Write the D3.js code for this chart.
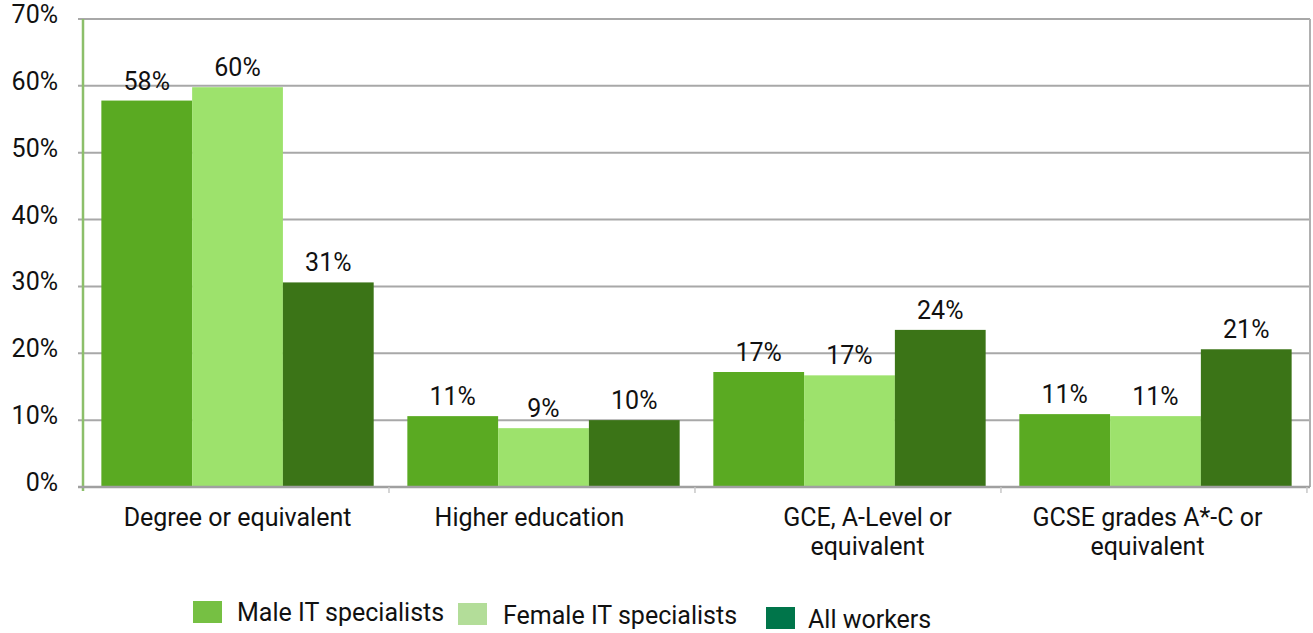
<!DOCTYPE html>
<html>
<head>
<meta charset="utf-8">
<script src="https://cdn.jsdelivr.net/npm/d3@7"></script>
<style>
  body { margin: 0; background: #fff; }
  text { font-family: Roboto, "Open Sans", sans-serif; fill: #111; font-size: 25px; }
</style>
</head>
<body>
<div id="chart"></div>
<script>
// categories (multi-line labels)
var categories = [
    ["Degree or equivalent"],
    ["Higher education"],
    ["GCE, A-Level or", "equivalent"],
    ["GCSE grades A*-C or", "equivalent"]
];
var seriesNames = ["Male IT specialists", "Female IT specialists", "All workers"];
var maleVals = [57.8, 10.6, 17.2, 10.9];
var femaleVals = [59.8, 8.8, 16.7, 10.6];
var allVals = [30.6, 10.0, 23.5, 20.6];
var valueLabels = [
    ["58%", "60%", "31%"],
    ["11%", "9%", "10%"],
    ["17%", "17%", "24%"],
    ["11%", "11%", "21%"]
];
var yTicks = [0, 10, 20, 30, 40, 50, 60, 70];

var barColors = ["#5aaa22", "#9de26c", "#3b7417"];
var legendColors = ["#76c043", "#b3dd99", "#00754a"];

var width = 1313, height = 633;
var margin = {left: 83, right: 3, top: 19, bottom: 146};

// excel-ish wrapping shifts the category labels a bit off centre
var labelShift = [0, -14, 18, -8];

var svg = d3.select("#chart")
    .append("svg")
    .attr("width", width)
    .attr("height", height);

var x0 = d3.scaleBand()
    .domain(d3.range(categories.length))
    .range([margin.left, width - margin.right])
    .paddingInner(0.11)
    .paddingOuter(0.06);

var x1 = d3.scaleBand()
    .domain(d3.range(seriesNames.length))
    .range([0, x0.bandwidth()]);

var y = d3.scaleLinear()
    .domain([0, 70])
    .range([height - margin.bottom, margin.top]);

// gridlines
svg.append("g")
    .selectAll("line")
    .data(yTicks.slice(1))
    .enter()
    .append("line")
    .attr("x1", margin.left - 5)
    .attr("x2", width - margin.right)
    .attr("y1", function(d) { return y(d); })
    .attr("y2", function(d) { return y(d); })
    .style("stroke", "#a8a8a8")
    .style("stroke-width", 2);

// right border
svg.append("line")
    .attr("x1", width - margin.right).attr("x2", width - margin.right)
    .attr("y1", y(70)).attr("y2", y(0))
    .style("stroke", "#b0b0b0")
    .style("stroke-width", 2);

// y tick labels
svg.append("g")
    .selectAll("text")
    .data(yTicks)
    .enter()
    .append("text")
    .attr("x", 58)
    .attr("y", function(d) { return y(d) + 4; })
    .attr("text-anchor", "end")
    .text(function(d) { return d + "%"; });

// bars
var series = [maleVals, femaleVals, allVals];
var groups = svg.append("g")
    .selectAll("g")
    .data(categories)
    .enter()
    .append("g")
    .attr("transform", function(d, i) { return "translate(" + x0(i) + ",0)"; });

groups.selectAll("rect")
    .data(function(d, i) { return series.map(function(s, j) { return {s: j, v: s[i]}; }); })
    .enter()
    .append("rect")
    .attr("x", function(d) { return x1(d.s); })
    .attr("width", x1.bandwidth())
    .attr("y", function(d) { return y(d.v); })
    .attr("height", function(d) { return y(0) - y(d.v); })
    .style("fill", function(d) { return barColors[d.s]; });

groups.selectAll("text.val")
    .data(function(d, i) { return series.map(function(s, j) { return {s: j, v: s[i], label: valueLabels[i][j]}; }); })
    .enter()
    .append("text")
    .attr("class", "val")
    .attr("x", function(d) { return x1(d.s) + x1.bandwidth() / 2; })
    .attr("y", function(d) { return y(d.v) - 11; })
    .attr("text-anchor", "middle")
    .text(function(d) { return d.label; });

// y axis line (green)
svg.append("line")
    .attr("x1", margin.left).attr("x2", margin.left)
    .attr("y1", y(70)).attr("y2", y(0) + 4)
    .style("stroke", "#8cbf6a")
    .style("stroke-width", 2.5);

// x axis line
svg.append("line")
    .attr("x1", margin.left - 5).attr("x2", width - margin.right)
    .attr("y1", y(0)).attr("y2", y(0))
    .style("stroke", "#a0a0a0")
    .style("stroke-width", 2.5);

// category tick marks
var step = x0.step();
svg.append("g")
    .selectAll("line")
    .data(d3.range(1, categories.length + 1))
    .enter()
    .append("line")
    .attr("x1", function(d) { return x0(0) - x0.paddingOuter() * step + d * step; })
    .attr("x2", function(d) { return x0(0) - x0.paddingOuter() * step + d * step; })
    .attr("y1", y(0)).attr("y2", y(0) + 6)
    .style("stroke", "#c8c8c8")
    .style("stroke-width", 1.5);

// category labels
var catLabels = svg.append("g")
    .selectAll("text")
    .data(categories)
    .enter()
    .append("text")
    .attr("text-anchor", "middle")
    .attr("transform", function(d, i) {
        return "translate(" + (x0(i) + x0.bandwidth() / 2 + labelShift[i]) + "," + (y(0) + 39) + ")";
    });

catLabels.selectAll("tspan")
    .data(function(d) { return d; })
    .enter()
    .append("tspan")
    .attr("x", 0)
    .attr("dy", function(d, i) { return i === 0 ? 0 : 29; })
    .text(function(d) { return d; });

// legend
var legendPos = [
    {x: 193, y: 601, tx: 237, ty: 621},
    {x: 458, y: 603, tx: 503, ty: 624},
    {x: 766, y: 607, tx: 808, ty: 628}
];
var legend = svg.append("g")
    .selectAll("g")
    .data(seriesNames)
    .enter()
    .append("g");

legend.append("rect")
    .attr("x", function(d, i) { return legendPos[i].x; })
    .attr("y", function(d, i) { return legendPos[i].y; })
    .attr("width", 29)
    .attr("height", 22)
    .style("fill", function(d, i) { return legendColors[i]; });

legend.append("text")
    .attr("x", function(d, i) { return legendPos[i].tx; })
    .attr("y", function(d, i) { return legendPos[i].ty; })
    .text(function(d) { return d; });
</script>
</body>
</html>
